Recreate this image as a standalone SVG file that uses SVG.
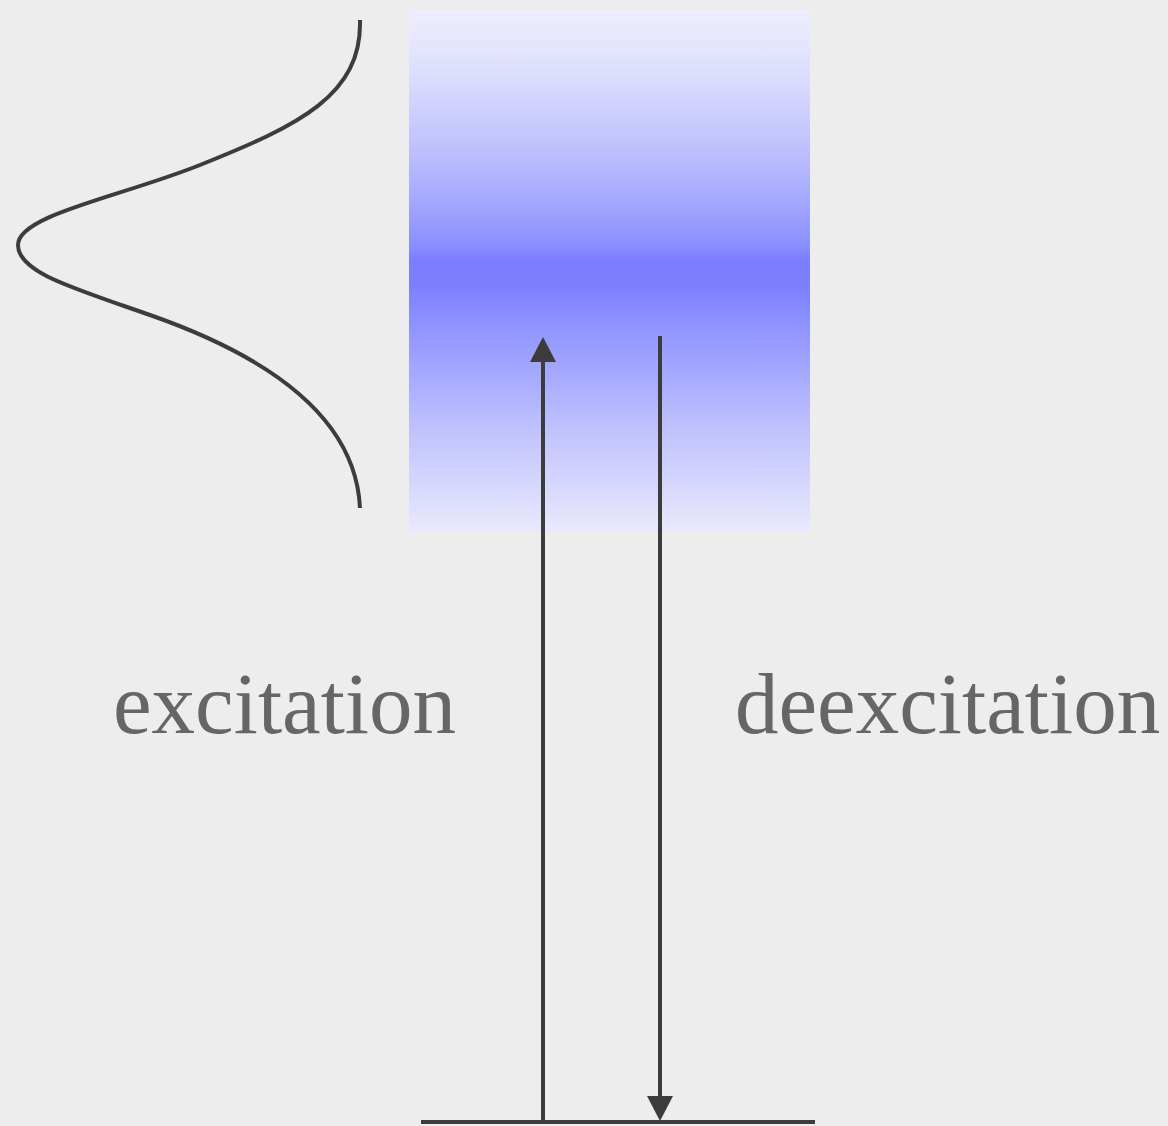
<svg xmlns="http://www.w3.org/2000/svg" width="1168" height="1126" viewBox="0 0 1168 1126">
<style>
.ln{stroke:#3c3c3c;stroke-width:4;fill:none}
.hd{fill:#3c3c3c}
.lbl{font-family:"Liberation Serif",serif;font-size:87px;fill:#666666}
</style>
<defs>
<linearGradient id="band" x1="0" y1="0" x2="0" y2="1">
<stop offset="0" stop-color="#eeeefe"/>
<stop offset="0.12" stop-color="#dddefd"/>
<stop offset="0.25" stop-color="#c2c4fd"/>
<stop offset="0.37" stop-color="#a3a7fd"/>
<stop offset="0.45" stop-color="#8a8ffe"/>
<stop offset="0.48" stop-color="#7a7eff"/>
<stop offset="0.53" stop-color="#7c80ff"/>
<stop offset="0.62" stop-color="#9297fe"/>
<stop offset="0.8" stop-color="#bfc1fd"/>
<stop offset="1" stop-color="#e9e9fd"/>
</linearGradient>
</defs>
<rect width="1168" height="1126" fill="#ededed"/>
<g id="band-node">
<rect x="409" y="10" width="401" height="522" fill="url(#band)"/>
</g>
<g id="gaussian">
<path class="ln" stroke-width="3" d="M360,20 C362,95 300,125 200,165 C120,197 18,215 18,245 C18,272 70,287 150,315 C230,343 355,400 360,508"/>
</g>
<g id="ground">
<line class="ln" x1="421" y1="1122" x2="815" y2="1122" stroke-width="5"/>
</g>
<g id="connectors">
<line class="ln" x1="543" y1="1122" x2="543" y2="360"/>
<polygon class="hd" points="530,362 543,337 556,362"/>
<line class="ln" x1="660" y1="336" x2="660" y2="1098"/>
<polygon class="hd" points="647,1096 660,1121 673,1096"/>
</g>
<g id="labels">
<text class="lbl" x="113" y="733">excitation</text>
<text class="lbl" x="735" y="733">deexcitation</text>
</g>
</svg>
